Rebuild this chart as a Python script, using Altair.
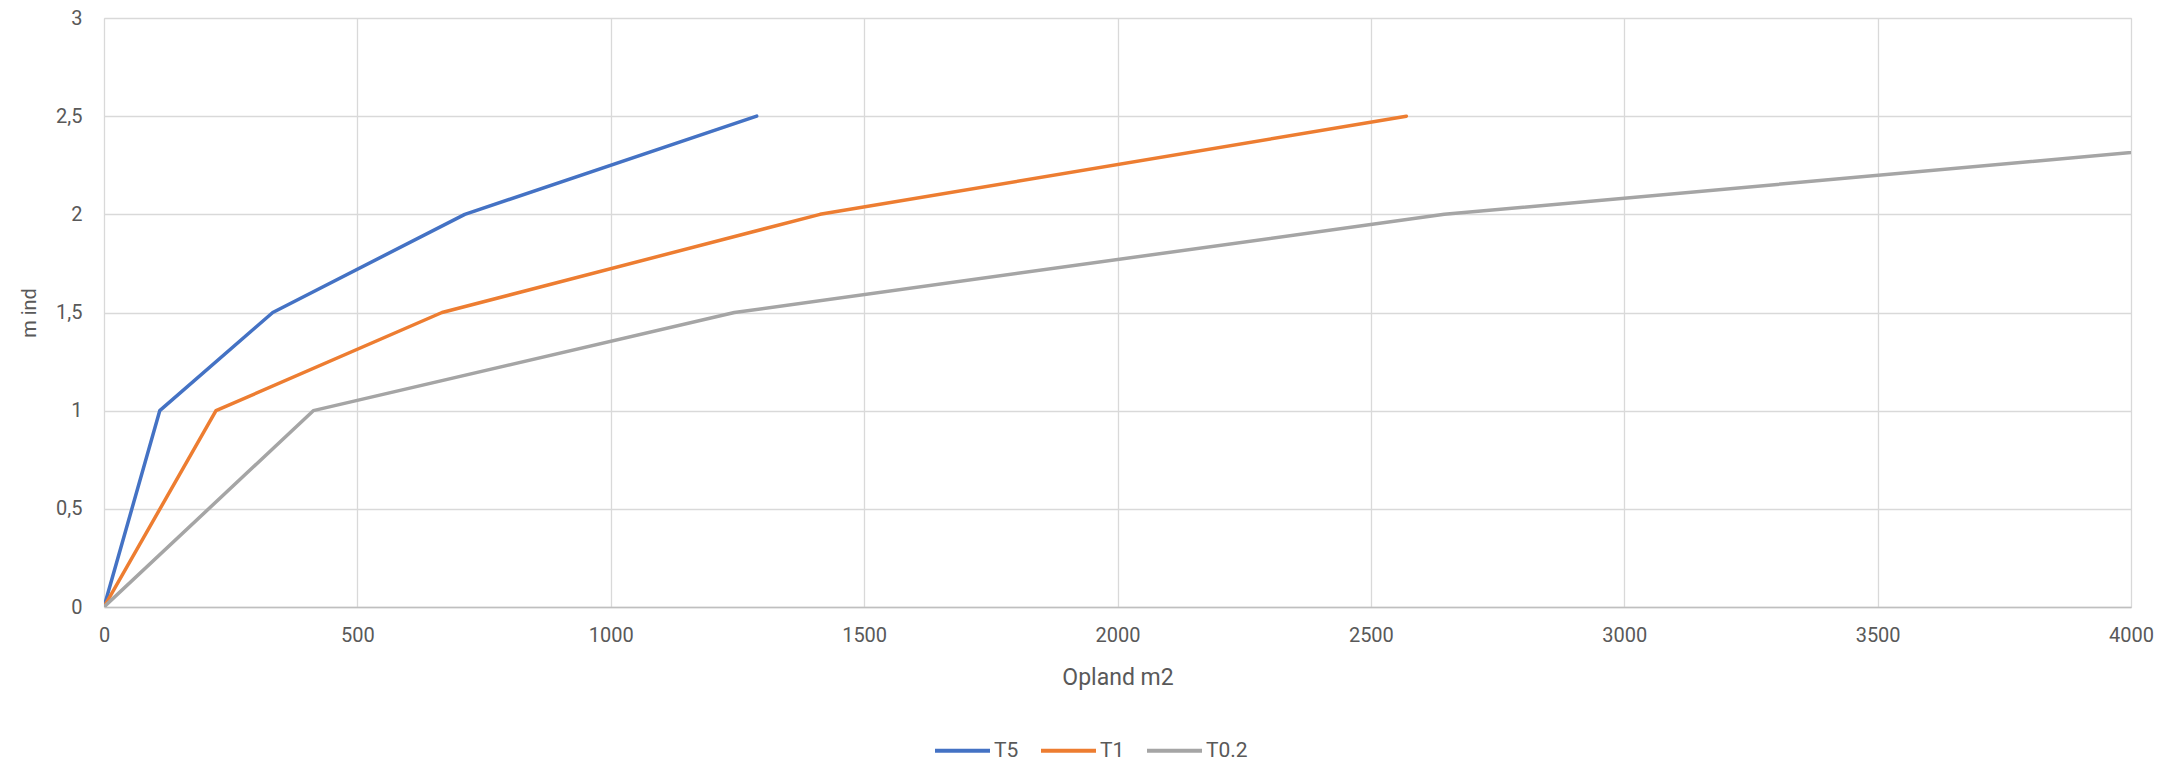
import altair as alt
import pandas as pd

# Data
depth = [0, 1, 1.5, 2, 2.5]
t5_area = [0, 110, 333, 712, 1288]
t1_area = [0, 221, 667, 1413, 2570]
t02_area = [0, 413, 1244, 2645, 4800]
series_names = ["T5", "T1", "T0.2"]
series_colors = ["#4472C4", "#ED7D31", "#A5A5A5"]

rows = []
for name, xs in zip(series_names, [t5_area, t1_area, t02_area]):
    for x, y in zip(xs, depth):
        rows.append({"serie": name, "opland": x, "mind": y})
df = pd.DataFrame(rows)

FONT = "Roboto"
TXT = "#595959"

chart = (
    alt.Chart(df)
    .mark_line(clip=True, strokeWidth=3.5, strokeCap="round", strokeJoin="round")
    .encode(
        x=alt.X(
            "opland:Q",
            title="Opland m2",
            scale=alt.Scale(domain=[0, 4000], nice=False, zero=True),
            axis=alt.Axis(
                values=[0, 500, 1000, 1500, 2000, 2500, 3000, 3500, 4000],
                format="d",
                grid=True,
                gridColor="#D9D9D9",
                gridWidth=1.3,
                domain=True,
                domainColor="#BFBFBF",
                domainWidth=1.6,
                ticks=False,
                labelFlush=False,
                labelPadding=18,
                labelFont=FONT,
                labelFontSize=20,
                labelColor=TXT,
                titleFont=FONT,
                titleFontSize=23,
                titleFontWeight="normal",
                titleColor=TXT,
                titlePadding=21,
            ),
        ),
        y=alt.Y(
            "mind:Q",
            title="m ind",
            scale=alt.Scale(domain=[0, 3], nice=False),
            axis=alt.Axis(
                values=[0, 0.5, 1, 1.5, 2, 2.5, 3],
                labelExpr="replace(toString(datum.value), '.', ',')",
                grid=True,
                gridColor="#D9D9D9",
                gridWidth=1.3,
                domain=False,
                ticks=False,
                labelFlush=False,
                labelPadding=22,
                labelFont=FONT,
                labelFontSize=20,
                labelColor=TXT,
                titleFont=FONT,
                titleFontSize=20,
                titleFontWeight="normal",
                titleColor=TXT,
                titlePadding=16,
            ),
        ),
        color=alt.Color(
            "serie:N",
            sort=series_names,
            scale=alt.Scale(domain=series_names, range=series_colors),
            legend=alt.Legend(
                title=None,
                orient="none",
                direction="horizontal",
                columns=3,
                legendX=829,
                legendY=703,
                symbolType="stroke",
                symbolSize=3025,
                symbolStrokeWidth=4,
                labelOffset=2,
                columnPadding=14,
                labelFont=FONT,
                labelFontSize=21,
                labelColor=TXT,
                padding=0,
            ),
        ),
        detail="serie:N",
        order="opland:Q",
    )
    .properties(
        width=2027,
        height=589,
        autosize=alt.AutoSizeParams(type="none"),
        padding={"left": 96, "top": 10, "right": 44, "bottom": 160},
    )
    .configure_view(stroke=None)
    .configure(background="white")
)

chart.save("out.html", embed_options={"renderer": "svg", "actions": False})
